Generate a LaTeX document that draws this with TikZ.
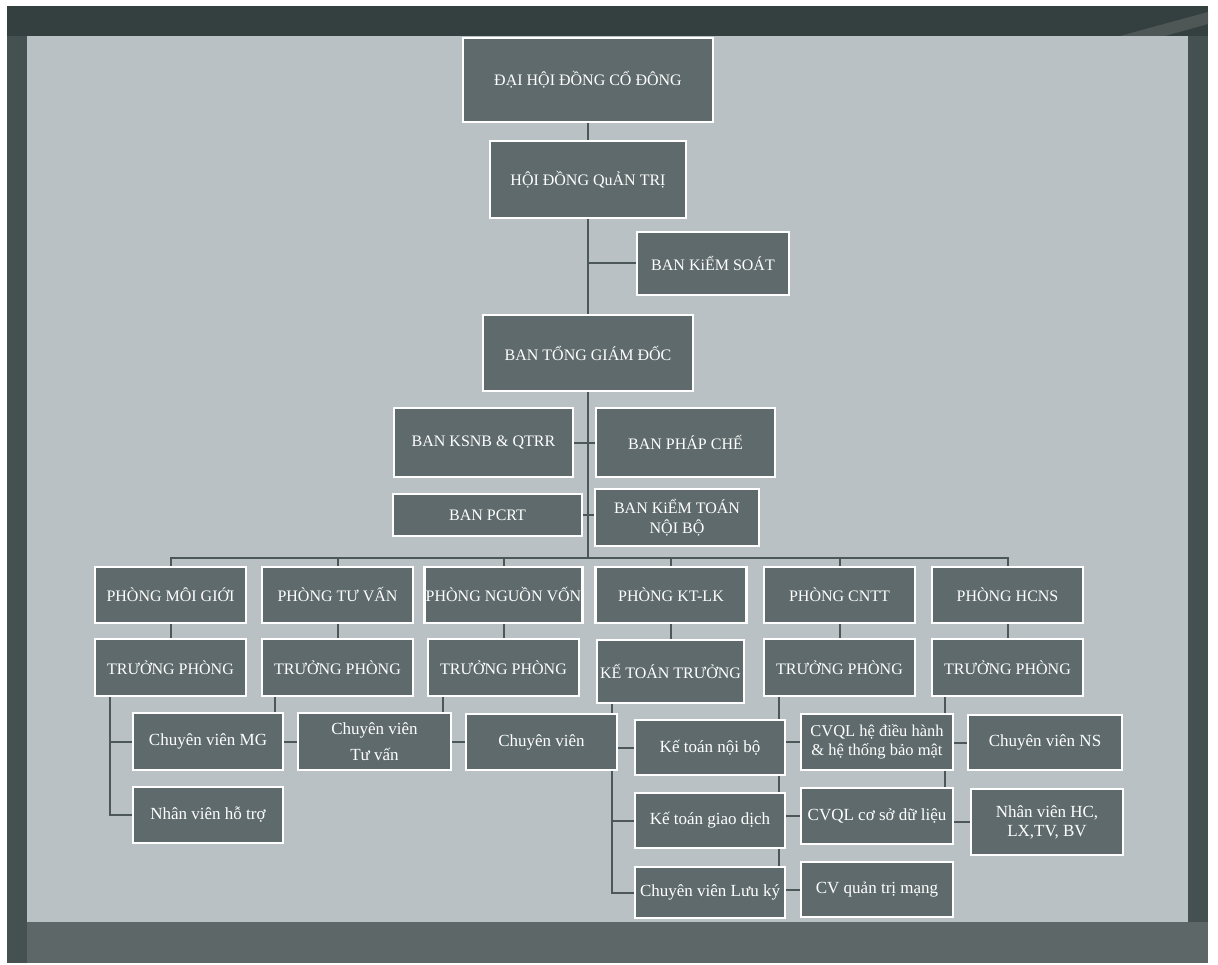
\documentclass[tikz,border=0pt]{standalone}
\usepackage{fontspec}
\setmainfont{Liberation Serif}
\usetikzlibrary{calc}
\pgfdeclarelayer{back}
\pgfdeclarelayer{bg}
\pgfsetlayers{back,bg,main}
\definecolor{frameTop}{HTML}{33403F}
\definecolor{frameSide}{HTML}{455151}
\definecolor{frameBot}{HTML}{5D6767}
\definecolor{paper}{HTML}{B9C1C5}
\definecolor{boxfill}{HTML}{5E6A6B}
\definecolor{linkc}{HTML}{4C5757}
\begin{document}
\begin{tikzpicture}[x=1pt,y=-1pt,
  orgbox/.style={draw=white, line width=2.5pt, fill=boxfill, text=white, inner sep=1pt, align=center, font=\fontsize{16}{20}\selectfont},
  lowbox/.style={orgbox, font=\fontsize{17}{20}\selectfont},
  dept/.style={orgbox, minimum width=151pt, minimum height=56pt},
  child/.style={lowbox, minimum width=150pt, minimum height=56pt},
  link/.style={draw=linkc, line width=2pt}]
\useasboundingbox (0,0) rectangle (1218,965);
\begin{pgfonlayer}{back}
  \fill[white] (0,0) rectangle (1218,965);
  \fill[frameSide] (7,6) rectangle (1208,963);
  \fill[frameTop] (7,6) rectangle (1208,36);
  \fill[frameBot] (27,922) rectangle (1208,963);
  \fill[gray!60!frameTop, opacity=0.6] (1120,36) -- (1208,12) -- (1208,24) -- (1165,36) -- cycle;
  \fill[paper] (27,36) rectangle (1188,922);
\end{pgfonlayer}

% top chain
\node[orgbox, minimum width=250pt, minimum height=84pt] (dh) at (588,80) {ĐẠI HỘI ĐỒNG CỔ ĐÔNG};
\node[orgbox, minimum width=196pt, minimum height=77pt] (hd) at (588,179.5) {HỘI ĐỒNG QuẢN TRỊ};
\node[orgbox, minimum width=152pt, minimum height=63pt] (ks) at (713,263.5) {BAN KiỂM SOÁT};
\node[orgbox, minimum width=210pt, minimum height=76pt] (tgd) at (588,353) {BAN TỔNG GIÁM ĐỐC};
\node[orgbox, minimum width=179pt, minimum height=69pt] (ksnb) at (483.5,442.5) {BAN KSNB \& QTRR};
\node[orgbox, minimum width=179pt, minimum height=69pt] (pc) at (685.5,442.5) {BAN PHÁP CHẾ};
\node[orgbox, minimum width=189pt, minimum height=42pt] (pcrt) at (487.5,515) {BAN PCRT};
\node[orgbox, minimum width=164pt, minimum height=57pt] (ktnbo) at (677,517.5) {BAN KiỂM TOÁN\\NỘI BỘ};
\coordinate (bus) at (588,558);

% departments
\node[dept] (p1) at (170.5,595) {PHÒNG MÔI GIỚI};
\node[dept] (p2) at (337.5,595) {PHÒNG TƯ VẤN};
\node[dept] (p3) at (503.5,595) {PHÒNG NGUỒN VỐN};
\node[dept] (p4) at (671,595) {PHÒNG KT-LK};
\node[dept] (p5) at (839.5,595) {PHÒNG CNTT};
\node[dept] (p6) at (1007.5,595) {PHÒNG HCNS};

\node[dept, minimum height=57pt] (t1) at (170.5,667.5) {TRƯỞNG PHÒNG};
\node[dept, minimum height=57pt] (t2) at (337.5,667.5) {TRƯỞNG PHÒNG};
\node[dept, minimum height=57pt] (t3) at (503.5,667.5) {TRƯỞNG PHÒNG};
\node[dept, minimum width=147pt, minimum height=63pt] (t4) at (670.5,671.5) {KẾ TOÁN TRƯỞNG};
\node[dept, minimum height=57pt] (t5) at (839.5,667.5) {TRƯỞNG PHÒNG};
\node[dept, minimum height=57pt] (t6) at (1007.5,667.5) {TRƯỞNG PHÒNG};

% children
\node[child, minimum height=57pt] (mg) at (208,741.5) {Chuyên viên MG};
\node[child] (nvht) at (208,815) {Nhân viên hỗ trợ};
\node[child, minimum width=153pt, minimum height=57pt, font=\fontsize{17}{26}\selectfont] (cvtv) at (374.5,741.5) {Chuyên viên\\Tư vấn};
\node[child, minimum width=151pt] (cvnv) at (541.5,742) {Chuyên viên};
\node[child, minimum height=55pt] (ktnb) at (710,747.5) {Kế toán nội bộ};
\node[child, minimum height=55pt] (ktgd) at (710,820.5) {Kế toán giao dịch};
\node[child, minimum height=51pt] (cvlk) at (710,892.5) {Chuyên viên Lưu ký};
\node[child, minimum width=152pt, font=\fontsize{16.5}{19}\selectfont] (cvql1) at (877,742) {CVQL hệ điều hành\\\& hệ thống bảo mật};
\node[child, minimum width=152pt] (cvql2) at (877,816) {CVQL cơ sở dữ liệu};
\node[child, minimum width=152pt, minimum height=55pt] (cvqt) at (877,889.5) {CV quản trị mạng};
\node[child, minimum width=154pt, minimum height=55pt] (cvns) at (1045,742.5) {Chuyên viên NS};
\node[child, minimum width=152pt, minimum height=66pt, font=\fontsize{17}{19}\selectfont] (nvhc) at (1047,822) {Nhân viên HC,\\LX,TV, BV};

\begin{pgfonlayer}{bg}
  \draw[link] (dh.south) -- (hd.north);
  \draw[link] (hd.south) -- (tgd.north);
  \draw[link] (ks.west) -- (ks.west -| hd.south);
  \draw[link] (tgd.south) -- (bus);
  \draw[link] (ksnb.east) -- (pc.west);
  \draw[link] (pcrt.east) -- (pcrt.east -| ktnbo.west);
  \foreach \p in {p1,p2,p3,p4,p5,p6} { \draw[link] (bus) -| (\p.north); }
  \foreach \p/\t in {p1/t1,p2/t2,p3/t3,p4/t4,p5/t5,p6/t6} { \draw[link] (\p.south) -- (\p.south |- \t.north); }
  \draw[link] ($(t1.south west)+(16,0)$) |- (mg.west);
  \draw[link] ($(t1.south west)+(16,0)$) |- (nvht.west);
  \draw[link] ($(t2.south west)+(14,0)$) |- (cvtv.west);
  \draw[link] ($(t3.south west)+(16,0)$) |- (cvnv.west);
  \draw[link] ($(t4.south west)+(16,0)$) |- (ktnb.west);
  \draw[link] ($(t4.south west)+(16,0)$) |- (ktgd.west);
  \draw[link] ($(t4.south west)+(16,0)$) |- (cvlk.west);
  \draw[link] ($(t5.south west)+(16,0)$) |- (cvql1.west);
  \draw[link] ($(t5.south west)+(16,0)$) |- (cvql2.west);
  \draw[link] ($(t5.south west)+(16,0)$) |- (cvqt.west);
  \draw[link] ($(t6.south west)+(14,0)$) |- (cvns.west);
  \draw[link] ($(t6.south west)+(14,0)$) |- (nvhc.west);
\end{pgfonlayer}
\end{tikzpicture}
\end{document}
